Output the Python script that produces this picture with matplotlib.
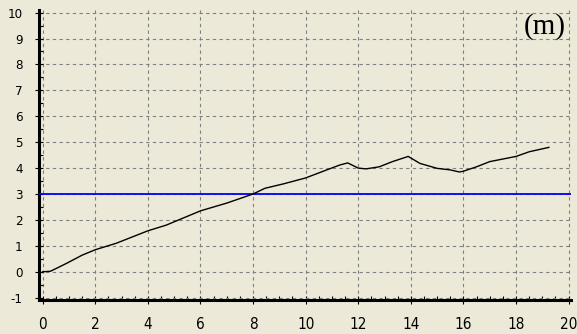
import numpy as np
import matplotlib.pyplot as plt
from matplotlib.ticker import MultipleLocator

plt.rcParams['axes.unicode_minus'] = False

# measured curve (m)
dist = [0.0, 0.3, 0.9, 1.5, 2.0, 2.8, 4.0, 4.7, 6.0, 7.0, 8.0, 8.45, 9.15, 10.0,
        10.8, 11.3, 11.6, 12.0, 12.3, 12.8, 13.3, 13.9, 14.35, 15.0, 15.5, 15.85,
        16.0, 16.5, 17.0, 18.0, 18.5, 19.25]
level = [0.0, 0.02, 0.32, 0.64, 0.85, 1.1, 1.58, 1.8, 2.35, 2.65, 3.0, 3.22, 3.39, 3.62,
         3.93, 4.12, 4.2, 4.0, 3.97, 4.05, 4.25, 4.45, 4.18, 3.99, 3.93, 3.85,
         3.88, 4.05, 4.25, 4.45, 4.63, 4.8]
threshold = 3.0
panel = "(m)"

bg = "#ECE9D8"
fig = plt.figure(figsize=(5.77, 3.34), dpi=100, facecolor=bg)
ax = fig.add_axes([0.068, 0.101, 0.922, 0.869], facecolor=bg)

ax.axhline(threshold, color="#0000FF", lw=1.3, zorder=3)
ax.plot(dist, level, color="black", lw=1.0, zorder=4)

ax.set_xlim(-0.13, 20.1)
ax.set_ylim(-1.1, 10.1)
ax.xaxis.set_major_locator(MultipleLocator(2))
ax.xaxis.set_minor_locator(MultipleLocator(0.5))
ax.yaxis.set_major_locator(MultipleLocator(1))
ax.yaxis.set_minor_locator(MultipleLocator(0.5))

ax.grid(True, which="major", color="#808080", ls=(0, (3, 3)), lw=0.8)
for side in ("top", "right"):
    ax.spines[side].set_visible(False)
for side in ("left", "bottom"):
    ax.spines[side].set_linewidth(2.2)
ax.tick_params(which="major", direction="inout", length=6, width=0.8)
ax.tick_params(which="minor", direction="in", length=3, width=0.8)
ax.tick_params(axis="y", labelsize=9.5, pad=9)
ax.tick_params(axis="x", labelsize=11, pad=9)
for lbl in ax.get_xticklabels() + ax.get_yticklabels():
    lbl.set_family("DejaVu Sans")
    lbl.set_stretch("condensed")

ax.text(0.99, 0.99, panel, transform=ax.transAxes, ha="right", va="top",
        fontsize=21, family="Liberation Serif")

fig.savefig("out.png", dpi=100, facecolor=bg)
